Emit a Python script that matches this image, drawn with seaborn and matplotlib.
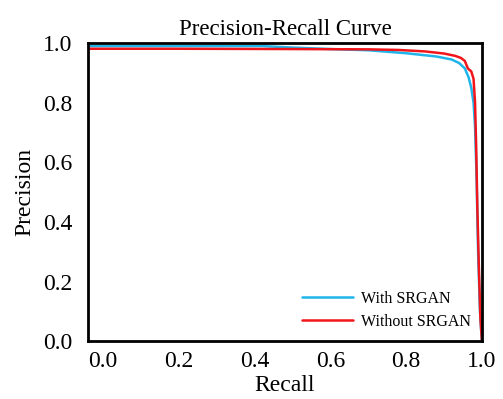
import numpy as np
import pandas as pd
import matplotlib
matplotlib.use("Agg")
import matplotlib.pyplot as plt
import seaborn as sns

# values
recall_with = [-0.04, 0.2, 0.42, 0.5, 0.6, 0.7, 0.8, 0.88, 0.92, 0.94, 0.955, 0.965, 0.972, 0.978, 0.982, 0.986, 0.99, 0.995, 1.0]
prec_with = [0.99, 0.99, 0.99, 0.985, 0.98, 0.976, 0.966, 0.955, 0.945, 0.933, 0.915, 0.885, 0.85, 0.80, 0.72, 0.55, 0.30, 0.10, 0.0]

recall_without = [-0.04, 0.2, 0.5, 0.7, 0.78, 0.85, 0.9, 0.93, 0.945, 0.955, 0.963, 0.972, 0.978, 0.982, 0.985, 0.988, 0.992, 0.996, 1.0]
prec_without = [0.981, 0.981, 0.98, 0.979, 0.977, 0.972, 0.965, 0.957, 0.95, 0.94, 0.915, 0.905, 0.88, 0.80, 0.65, 0.45, 0.25, 0.08, 0.0]

df = pd.concat([
    pd.DataFrame({"Recall": recall_with, "Precision": prec_with, "Model": "With SRGAN"}),
    pd.DataFrame({"Recall": recall_without, "Precision": prec_without, "Model": "Without SRGAN"}),
])

sns.set_style("white")
plt.rcParams["font.family"] = ["Liberation Serif", "DejaVu Serif"]
plt.rcParams["text.color"] = "black"
plt.rcParams["axes.labelcolor"] = "black"
plt.rcParams["xtick.color"] = "black"
plt.rcParams["ytick.color"] = "black"

fig, ax = plt.subplots(figsize=(5.03, 3.99), dpi=100)
sns.lineplot(data=df, x="Recall", y="Precision", hue="Model", sort=False,
             palette={"With SRGAN": "#1fb4ea", "Without SRGAN": "#f0161c"},
             linewidth=1.8, ax=ax)

ax.set_xlim(-0.04, 1.0)
ax.set_ylim(0.0, 1.0)
ax.set_xticks([0.0, 0.2, 0.4, 0.6, 0.8, 1.0])
ax.set_yticks([0.0, 0.2, 0.4, 0.6, 0.8, 1.0])
ax.tick_params(axis="y", labelsize=17, length=0, pad=11)
ax.tick_params(axis="x", labelsize=17, length=0, pad=7)
ax.set_xlabel("Recall", fontsize=17, labelpad=2)
ax.set_ylabel("Precision", fontsize=17, labelpad=6)
ax.set_title("Precision-Recall Curve", fontsize=16.5, pad=6)
for s in ax.spines.values():
    s.set_linewidth(2)
    s.set_color("black")

leg = ax.legend(loc="lower right", fontsize=11.5, frameon=False, handlelength=3.2,
                handletextpad=0.5, borderaxespad=0.3, labelspacing=0.45)

fig.subplots_adjust(left=0.175, right=0.958, top=0.892, bottom=0.145)
fig.savefig("out.png", dpi=100)
